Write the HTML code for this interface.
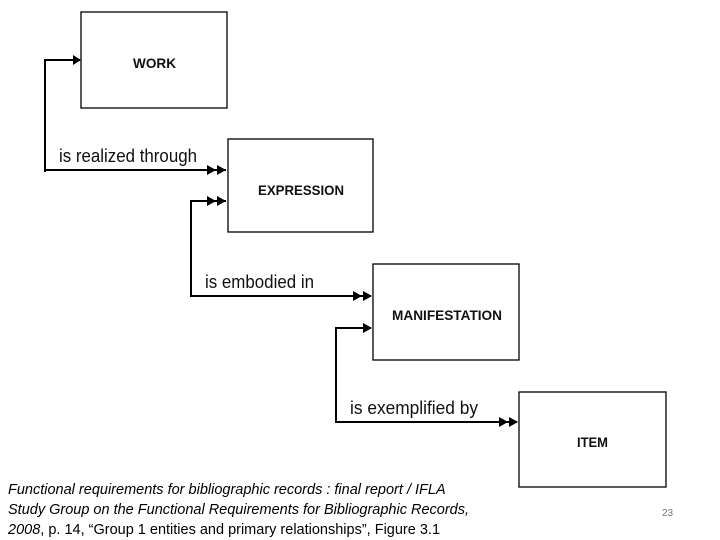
<!DOCTYPE html>
<html><head><style>
body{margin:0;width:720px;height:540px;background:#fff;overflow:hidden;font-family:"Liberation Sans",sans-serif}
.cap{position:absolute;left:8px;top:480px;font-size:14.5px;line-height:20px;font-style:italic;color:#000}
.num{position:absolute;left:662px;top:508px;font-size:10px;color:#777}
</style></head><body>
<svg width="720" height="540" style="position:absolute;left:0;top:0">
<defs>
<marker id="a" markerWidth="8" markerHeight="8" refX="7" refY="4" orient="auto" markerUnits="userSpaceOnUse"><path d="M0,0 L8,4 L0,8z" fill="#000"/></marker>
</defs>
<g fill="none" stroke="#000" stroke-width="1.3">
<rect x="81" y="12" width="146" height="96"/>
<rect x="228" y="139" width="145" height="93"/>
<rect x="373" y="264" width="146" height="96"/>
<rect x="519" y="392" width="147" height="95"/>
</g>
<g stroke="#000" stroke-width="2" fill="none">
<polyline points="45,172 45,60 80,60"/>
<line x1="45" y1="170" x2="226" y2="170"/>
<polyline points="191,297 191,201 226,201"/>
<line x1="191" y1="296" x2="371" y2="296"/>
<polyline points="336,423 336,328 371,328"/>
<line x1="336" y1="422" x2="517" y2="422"/>
</g>
<g fill="#000">
<path d="M73,55 L81,60 L73,65z"/>
<path d="M207,165 L216,170 L207,175z M217,165 L226,170 L217,175z"/>
<path d="M207,196 L216,201 L207,206z M217,196 L226,201 L217,206z"/>
<path d="M353,291 L362,296 L353,301z M363,291 L372,296 L363,301z"/>
<path d="M363,323 L372,328 L363,333z"/>
<path d="M499,417 L508,422 L499,427z M509,417 L518,422 L509,427z"/>
</g>
<g font-family="Liberation Sans,sans-serif" font-size="18" fill="#111">
<text x="59" y="162" textLength="138" lengthAdjust="spacingAndGlyphs">is realized through</text>
<text x="205" y="288" textLength="109" lengthAdjust="spacingAndGlyphs">is embodied in</text>
<text x="350" y="414" textLength="128" lengthAdjust="spacingAndGlyphs">is exemplified by</text>
</g>
<g font-family="Liberation Sans,sans-serif" font-size="14" font-weight="bold" fill="#111">
<text x="133" y="68" textLength="43" lengthAdjust="spacingAndGlyphs">WORK</text>
<text x="258" y="195" textLength="86" lengthAdjust="spacingAndGlyphs">EXPRESSION</text>
<text x="392" y="320" textLength="110" lengthAdjust="spacingAndGlyphs">MANIFESTATION</text>
<text x="577" y="447" textLength="31" lengthAdjust="spacingAndGlyphs">ITEM</text>
</g>
</svg>
<div class="cap">Functional requirements for bibliographic records : final report / IFLA<br>Study Group on the Functional Requirements for Bibliographic Records,<br><span style="font-style:normal"><i>2008</i>, p. 14, “Group 1 entities and primary relationships”, Figure 3.1</span></div>
<div class="num">23</div>
</body></html>
